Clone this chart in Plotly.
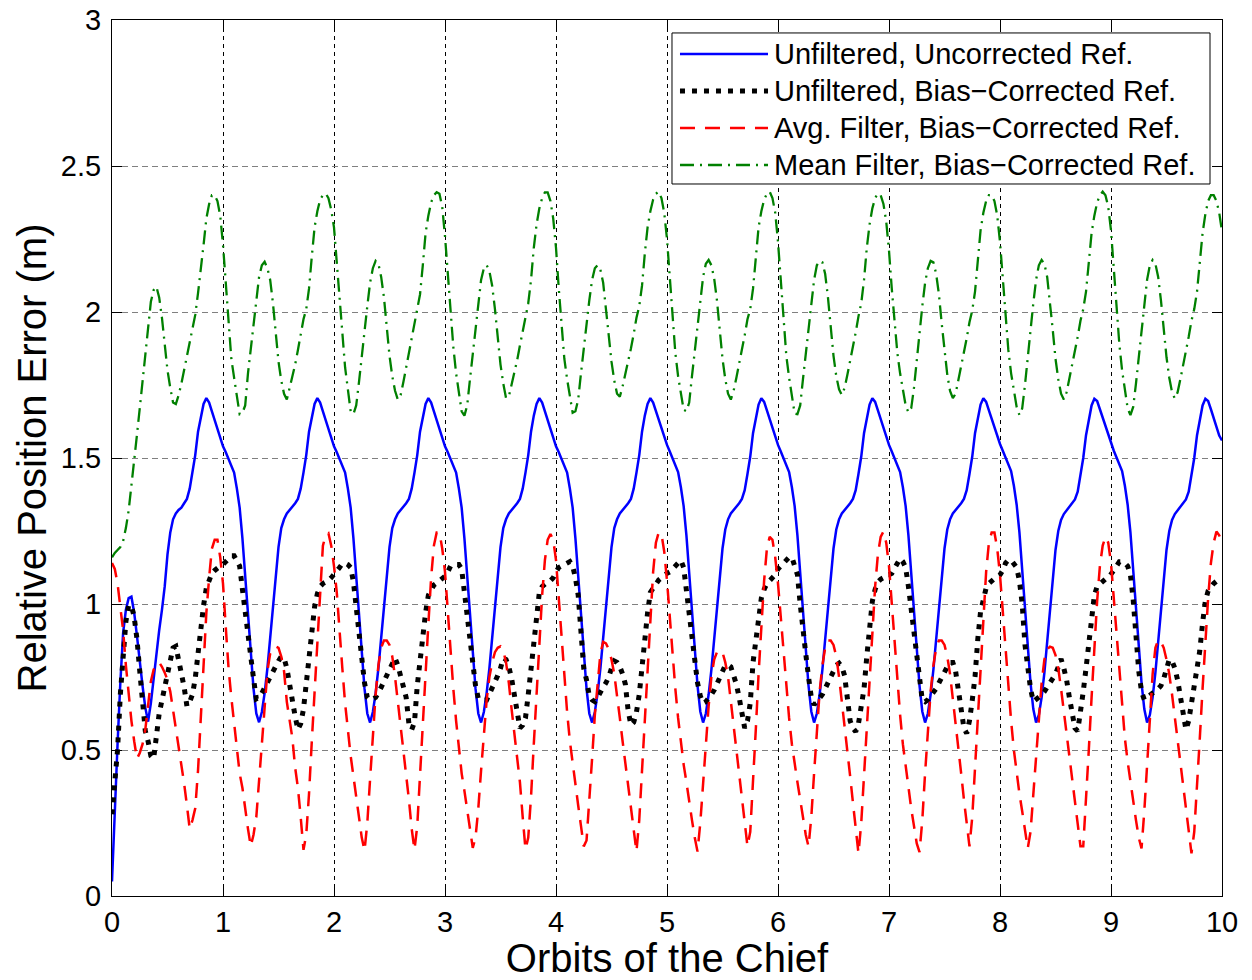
import numpy as np
import plotly.graph_objects as go

# Orbit sampling: 40 samples per orbit, 10 orbits of the chief
orbits = np.round(np.arange(401) * 0.025, 3)

# Unfiltered, uncorrected reference (m)
unfilt_uncorr = [
    0.05, 0.30, 0.52, 0.73, 0.90, 0.98, 1.02, 1.025, 0.97, 0.89, 0.80, 0.72, 0.645, 0.597, 0.66, 0.75, 0.83, 0.91, 0.98, 1.06,
    1.17, 1.245, 1.29, 1.31, 1.322, 1.33, 1.345, 1.36, 1.395, 1.45, 1.51, 1.59, 1.645, 1.685, 1.705, 1.69, 1.66, 1.63, 1.60, 1.57,
    1.54, 1.52, 1.497, 1.475, 1.45, 1.395, 1.33, 1.225, 1.09, 0.95, 0.825, 0.71, 0.625, 0.595, 0.63, 0.695, 0.78, 0.89, 1.00, 1.11,
    1.195, 1.26, 1.29, 1.31, 1.322, 1.33, 1.345, 1.36, 1.395, 1.45, 1.51, 1.59, 1.645, 1.685, 1.705, 1.69, 1.66, 1.63, 1.60, 1.57,
    1.54, 1.52, 1.497, 1.475, 1.45, 1.395, 1.33, 1.225, 1.09, 0.95, 0.825, 0.71, 0.625, 0.594, 0.63, 0.695, 0.78, 0.89, 1.00, 1.11,
    1.195, 1.26, 1.29, 1.31, 1.322, 1.33, 1.345, 1.36, 1.395, 1.45, 1.51, 1.59, 1.645, 1.685, 1.705, 1.69, 1.66, 1.63, 1.60, 1.57,
    1.54, 1.52, 1.497, 1.475, 1.45, 1.395, 1.33, 1.225, 1.09, 0.95, 0.825, 0.71, 0.625, 0.594, 0.63, 0.695, 0.78, 0.89, 1.00, 1.11,
    1.195, 1.26, 1.29, 1.31, 1.322, 1.33, 1.345, 1.36, 1.395, 1.45, 1.51, 1.59, 1.645, 1.685, 1.705, 1.69, 1.66, 1.63, 1.60, 1.57,
    1.54, 1.52, 1.497, 1.475, 1.45, 1.395, 1.33, 1.225, 1.09, 0.95, 0.825, 0.71, 0.625, 0.594, 0.63, 0.695, 0.78, 0.89, 1.00, 1.11,
    1.195, 1.26, 1.29, 1.31, 1.322, 1.33, 1.345, 1.36, 1.395, 1.45, 1.51, 1.59, 1.645, 1.685, 1.705, 1.69, 1.66, 1.63, 1.60, 1.57,
    1.545, 1.522, 1.50, 1.477, 1.452, 1.40, 1.335, 1.235, 1.10, 0.96, 0.835, 0.72, 0.632, 0.594, 0.625, 0.69, 0.775, 0.88, 0.99, 1.10,
    1.19, 1.255, 1.29, 1.31, 1.322, 1.33, 1.345, 1.36, 1.39, 1.445, 1.505, 1.585, 1.64, 1.683, 1.705, 1.692, 1.663, 1.633, 1.603, 1.573,
    1.545, 1.522, 1.50, 1.477, 1.452, 1.40, 1.335, 1.235, 1.10, 0.96, 0.835, 0.72, 0.632, 0.594, 0.625, 0.69, 0.775, 0.88, 0.99, 1.10,
    1.19, 1.255, 1.29, 1.31, 1.322, 1.33, 1.345, 1.36, 1.39, 1.445, 1.505, 1.585, 1.64, 1.683, 1.705, 1.692, 1.663, 1.633, 1.603, 1.573,
    1.545, 1.522, 1.50, 1.477, 1.452, 1.40, 1.335, 1.235, 1.10, 0.96, 0.835, 0.72, 0.632, 0.594, 0.625, 0.69, 0.775, 0.88, 0.99, 1.10,
    1.19, 1.255, 1.29, 1.31, 1.322, 1.33, 1.345, 1.36, 1.39, 1.445, 1.505, 1.585, 1.64, 1.683, 1.705, 1.692, 1.663, 1.633, 1.603, 1.573,
    1.548, 1.525, 1.502, 1.48, 1.455, 1.405, 1.34, 1.245, 1.11, 0.97, 0.845, 0.73, 0.64, 0.594, 0.62, 0.68, 0.765, 0.87, 0.98, 1.09,
    1.185, 1.25, 1.288, 1.308, 1.32, 1.33, 1.343, 1.358, 1.385, 1.44, 1.50, 1.578, 1.635, 1.68, 1.703, 1.695, 1.667, 1.637, 1.607, 1.577,
    1.548, 1.525, 1.502, 1.48, 1.455, 1.405, 1.34, 1.245, 1.11, 0.97, 0.845, 0.73, 0.64, 0.594, 0.62, 0.68, 0.765, 0.87, 0.98, 1.09,
    1.185, 1.25, 1.288, 1.308, 1.32, 1.33, 1.343, 1.358, 1.385, 1.44, 1.50, 1.578, 1.635, 1.68, 1.703, 1.695, 1.667, 1.637, 1.607, 1.577,
    1.56,
]

# Unfiltered, bias-corrected reference (m)
unfilt_biascorr = [
    0.28, 0.39, 0.50, 0.69, 0.83, 0.94, 0.995, 0.995, 0.955, 0.88, 0.77, 0.66, 0.565, 0.53, 0.48, 0.47, 0.55, 0.625, 0.67, 0.715,
    0.77, 0.82, 0.85, 0.855, 0.81, 0.76, 0.715, 0.65, 0.665, 0.69, 0.745, 0.83, 0.925, 0.995, 1.055, 1.087, 1.105, 1.115, 1.125, 1.13,
    1.135, 1.145, 1.155, 1.165, 1.165, 1.15, 1.13, 1.05, 0.965, 0.885, 0.81, 0.745, 0.675, 0.68, 0.695, 0.715, 0.73, 0.745, 0.77, 0.79,
    0.805, 0.82, 0.815, 0.78, 0.72, 0.66, 0.615, 0.57, 0.59, 0.64, 0.73, 0.82, 0.90, 0.99, 1.035, 1.06, 1.07, 1.075, 1.08, 1.09,
    1.10, 1.116, 1.125, 1.138, 1.14, 1.135, 1.125, 1.076, 0.98, 0.895, 0.82, 0.73, 0.68, 0.671, 0.675, 0.68, 0.695, 0.715, 0.73, 0.75,
    0.77, 0.795, 0.815, 0.79, 0.76, 0.717, 0.68, 0.59, 0.57, 0.595, 0.72, 0.808, 0.89, 0.97, 1.03, 1.05, 1.065, 1.072, 1.078, 1.085,
    1.095, 1.11, 1.13, 1.135, 1.135, 1.135, 1.12, 1.04, 0.96, 0.877, 0.79, 0.72, 0.677, 0.672, 0.671, 0.671, 0.69, 0.71, 0.73, 0.755,
    0.78, 0.815, 0.81, 0.785, 0.745, 0.68, 0.62, 0.575, 0.585, 0.61, 0.69, 0.78, 0.86, 0.975, 1.04, 1.06, 1.07, 1.075, 1.08, 1.09,
    1.11, 1.125, 1.13, 1.135, 1.14, 1.145, 1.13, 1.09, 1.03, 0.91, 0.78, 0.74, 0.685, 0.672, 0.666, 0.68, 0.70, 0.715, 0.73, 0.75,
    0.78, 0.805, 0.80, 0.785, 0.76, 0.725, 0.635, 0.585, 0.595, 0.63, 0.69, 0.795, 0.89, 0.97, 1.04, 1.055, 1.07, 1.082, 1.09, 1.10,
    1.105, 1.11, 1.12, 1.13, 1.14, 1.15, 1.125, 1.045, 0.965, 0.89, 0.805, 0.73, 0.685, 0.66, 0.665, 0.675, 0.69, 0.705, 0.725, 0.745,
    0.77, 0.79, 0.792, 0.785, 0.755, 0.725, 0.68, 0.615, 0.575, 0.60, 0.66, 0.80, 0.88, 0.945, 1.02, 1.05, 1.07, 1.08, 1.09, 1.10,
    1.12, 1.13, 1.14, 1.15, 1.16, 1.16, 1.135, 1.10, 1.00, 0.90, 0.83, 0.75, 0.68, 0.655, 0.665, 0.68, 0.69, 0.71, 0.73, 0.745,
    0.77, 0.79, 0.797, 0.785, 0.755, 0.69, 0.60, 0.575, 0.563, 0.59, 0.665, 0.71, 0.82, 0.92, 1.01, 1.05, 1.075, 1.085, 1.09, 1.10,
    1.10, 1.105, 1.125, 1.145, 1.156, 1.145, 1.125, 1.06, 0.975, 0.895, 0.805, 0.73, 0.67, 0.665, 0.672, 0.685, 0.695, 0.71, 0.73, 0.75,
    0.77, 0.785, 0.80, 0.80, 0.77, 0.70, 0.62, 0.575, 0.557, 0.60, 0.67, 0.751, 0.88, 0.975, 1.014, 1.055, 1.07, 1.08, 1.085, 1.095,
    1.10, 1.115, 1.14, 1.151, 1.15, 1.14, 1.125, 1.08, 1.00, 0.86, 0.775, 0.71, 0.666, 0.672, 0.68, 0.688, 0.70, 0.715, 0.728, 0.745,
    0.76, 0.785, 0.812, 0.78, 0.74, 0.68, 0.62, 0.575, 0.565, 0.62, 0.70, 0.78, 0.87, 0.955, 1.03, 1.06, 1.07, 1.078, 1.085, 1.09,
    1.10, 1.115, 1.13, 1.145, 1.145, 1.14, 1.13, 1.10, 1.014, 0.88, 0.77, 0.70, 0.672, 0.68, 0.69, 0.695, 0.70, 0.71, 0.72, 0.745,
    0.78, 0.81, 0.805, 0.78, 0.74, 0.69, 0.62, 0.57, 0.60, 0.66, 0.715, 0.765, 0.84, 0.935, 1.01, 1.045, 1.06, 1.07, 1.078, 1.082,
    1.085,
]

# Averaging filter, bias-corrected reference (m)
avg_filt = [
    1.14, 1.12, 1.07, 0.99, 0.91, 0.79, 0.69, 0.60, 0.53, 0.47, 0.49, 0.52, 0.57, 0.66, 0.735, 0.775, 0.795, 0.80, 0.785, 0.765,
    0.74, 0.70, 0.64, 0.58, 0.51, 0.45, 0.385, 0.31, 0.23, 0.26, 0.30, 0.43, 0.61, 0.80, 0.97, 1.09, 1.19, 1.22, 1.22, 1.16,
    1.07, 0.92, 0.78, 0.68, 0.59, 0.49, 0.42, 0.37, 0.29, 0.23, 0.17, 0.21, 0.27, 0.40, 0.54, 0.66, 0.77, 0.83, 0.85, 0.855,
    0.85, 0.82, 0.77, 0.665, 0.61, 0.54, 0.44, 0.37, 0.27, 0.158, 0.21, 0.35, 0.53, 0.70, 0.88, 1.07, 1.20, 1.235, 1.242, 1.20,
    1.13, 1.04, 0.90, 0.78, 0.66, 0.56, 0.48, 0.41, 0.34, 0.27, 0.20, 0.155, 0.25, 0.40, 0.55, 0.69, 0.79, 0.85, 0.875, 0.875,
    0.86, 0.82, 0.75, 0.67, 0.59, 0.51, 0.42, 0.33, 0.23, 0.158, 0.24, 0.40, 0.58, 0.76, 0.93, 1.09, 1.20, 1.245, 1.245, 1.19,
    1.11, 0.97, 0.83, 0.71, 0.60, 0.50, 0.42, 0.36, 0.29, 0.22, 0.165, 0.20, 0.30, 0.43, 0.56, 0.67, 0.75, 0.80, 0.835, 0.85,
    0.855, 0.84, 0.80, 0.73, 0.64, 0.56, 0.47, 0.39, 0.27, 0.16, 0.20, 0.34, 0.52, 0.70, 0.87, 1.03, 1.15, 1.22, 1.24, 1.22,
    1.15, 1.02, 0.87, 0.74, 0.63, 0.53, 0.45, 0.38, 0.31, 0.24, 0.17, 0.19, 0.32, 0.47, 0.62, 0.74, 0.83, 0.87, 0.865, 0.845,
    0.81, 0.76, 0.69, 0.61, 0.53, 0.45, 0.37, 0.29, 0.21, 0.152, 0.26, 0.43, 0.61, 0.79, 0.96, 1.11, 1.21, 1.245, 1.24, 1.18,
    1.08, 0.95, 0.82, 0.71, 0.61, 0.52, 0.45, 0.39, 0.32, 0.26, 0.20, 0.152, 0.25, 0.39, 0.53, 0.65, 0.75, 0.81, 0.835, 0.842,
    0.835, 0.80, 0.75, 0.67, 0.59, 0.51, 0.42, 0.34, 0.25, 0.17, 0.22, 0.38, 0.57, 0.76, 0.93, 1.08, 1.19, 1.23, 1.22, 1.16,
    1.07, 0.95, 0.82, 0.71, 0.61, 0.52, 0.45, 0.39, 0.33, 0.27, 0.21, 0.169, 0.27, 0.42, 0.57, 0.70, 0.79, 0.85, 0.875, 0.875,
    0.86, 0.82, 0.75, 0.67, 0.59, 0.50, 0.41, 0.32, 0.23, 0.146, 0.25, 0.41, 0.58, 0.75, 0.91, 1.06, 1.17, 1.23, 1.248, 1.21,
    1.13, 1.00, 0.86, 0.73, 0.62, 0.52, 0.44, 0.37, 0.30, 0.24, 0.18, 0.15, 0.26, 0.42, 0.57, 0.70, 0.79, 0.85, 0.875, 0.875,
    0.86, 0.82, 0.76, 0.68, 0.60, 0.51, 0.42, 0.33, 0.24, 0.17, 0.27, 0.44, 0.62, 0.80, 0.97, 1.11, 1.21, 1.245, 1.245, 1.19,
    1.10, 0.97, 0.83, 0.71, 0.60, 0.50, 0.42, 0.35, 0.29, 0.22, 0.163, 0.22, 0.35, 0.49, 0.62, 0.73, 0.81, 0.845, 0.854, 0.85,
    0.825, 0.78, 0.71, 0.63, 0.55, 0.47, 0.39, 0.31, 0.24, 0.17, 0.17, 0.32, 0.50, 0.68, 0.85, 1.01, 1.13, 1.20, 1.23, 1.21,
    1.14, 1.02, 0.88, 0.75, 0.64, 0.54, 0.46, 0.39, 0.32, 0.26, 0.20, 0.163, 0.29, 0.46, 0.62, 0.76, 0.85, 0.877, 0.87, 0.85,
    0.81, 0.76, 0.69, 0.61, 0.53, 0.45, 0.37, 0.29, 0.22, 0.146, 0.22, 0.37, 0.54, 0.71, 0.87, 1.02, 1.14, 1.21, 1.248, 1.235,
    1.215,
]

# Mean filter, bias-corrected reference (m)
mean_filt = [
    1.16, 1.175, 1.185, 1.195, 1.215, 1.26, 1.32, 1.40, 1.49, 1.58, 1.67, 1.76, 1.86, 1.955, 2.035, 2.075, 2.087, 2.05, 1.98, 1.89,
    1.80, 1.74, 1.69, 1.685, 1.715, 1.755, 1.80, 1.845, 1.90, 1.94, 1.99, 2.065, 2.14, 2.23, 2.32, 2.37, 2.40, 2.40, 2.38, 2.33,
    2.23, 2.09, 1.96, 1.84, 1.775, 1.71, 1.65, 1.655, 1.68, 1.79, 1.875, 1.955, 2.04, 2.12, 2.16, 2.172, 2.15, 2.11, 2.03, 1.92,
    1.83, 1.765, 1.72, 1.70, 1.74, 1.775, 1.82, 1.87, 1.92, 1.975, 2.01, 2.08, 2.19, 2.29, 2.345, 2.385, 2.40, 2.406, 2.39, 2.35,
    2.29, 2.17, 2.04, 1.91, 1.81, 1.735, 1.66, 1.65, 1.68, 1.76, 1.855, 1.94, 2.02, 2.10, 2.15, 2.175, 2.165, 2.12, 2.05, 1.95,
    1.85, 1.78, 1.73, 1.70, 1.715, 1.76, 1.81, 1.86, 1.905, 1.96, 2.00, 2.06, 2.16, 2.27, 2.33, 2.375, 2.40, 2.41, 2.405, 2.36,
    2.26, 2.13, 2.00, 1.88, 1.79, 1.72, 1.66, 1.645, 1.68, 1.77, 1.86, 1.95, 2.04, 2.11, 2.15, 2.161, 2.14, 2.09, 2.01, 1.91,
    1.82, 1.755, 1.705, 1.71, 1.75, 1.79, 1.835, 1.885, 1.935, 1.99, 2.03, 2.11, 2.22, 2.30, 2.355, 2.39, 2.41, 2.41, 2.38, 2.32,
    2.22, 2.08, 1.95, 1.84, 1.77, 1.71, 1.655, 1.66, 1.70, 1.79, 1.88, 1.96, 2.04, 2.11, 2.15, 2.161, 2.145, 2.10, 2.02, 1.92,
    1.83, 1.765, 1.72, 1.71, 1.745, 1.785, 1.83, 1.875, 1.925, 1.98, 2.02, 2.09, 2.20, 2.29, 2.345, 2.385, 2.405, 2.412, 2.39, 2.34,
    2.25, 2.11, 1.98, 1.86, 1.78, 1.72, 1.665, 1.66, 1.69, 1.78, 1.87, 1.955, 2.04, 2.12, 2.165, 2.178, 2.16, 2.115, 2.04, 1.935,
    1.84, 1.77, 1.72, 1.70, 1.73, 1.775, 1.82, 1.87, 1.92, 1.975, 2.01, 2.08, 2.19, 2.29, 2.345, 2.385, 2.405, 2.412, 2.39, 2.34,
    2.24, 2.10, 1.97, 1.85, 1.775, 1.71, 1.652, 1.65, 1.68, 1.77, 1.86, 1.945, 2.03, 2.11, 2.16, 2.175, 2.17, 2.13, 2.05, 1.95,
    1.85, 1.78, 1.735, 1.716, 1.74, 1.785, 1.83, 1.88, 1.93, 1.985, 2.03, 2.11, 2.22, 2.30, 2.355, 2.39, 2.406, 2.40, 2.37, 2.31,
    2.21, 2.08, 1.96, 1.86, 1.79, 1.73, 1.68, 1.656, 1.67, 1.74, 1.84, 1.93, 2.02, 2.10, 2.15, 2.175, 2.17, 2.13, 2.06, 1.96,
    1.86, 1.785, 1.73, 1.705, 1.72, 1.765, 1.81, 1.86, 1.91, 1.965, 2.005, 2.07, 2.18, 2.28, 2.34, 2.38, 2.40, 2.40, 2.38, 2.33,
    2.24, 2.11, 1.98, 1.87, 1.79, 1.73, 1.675, 1.647, 1.67, 1.75, 1.85, 1.94, 2.03, 2.11, 2.16, 2.178, 2.165, 2.12, 2.04, 1.94,
    1.84, 1.77, 1.72, 1.70, 1.725, 1.77, 1.815, 1.865, 1.915, 1.97, 2.01, 2.07, 2.17, 2.27, 2.33, 2.375, 2.40, 2.412, 2.40, 2.36,
    2.28, 2.15, 2.01, 1.89, 1.80, 1.73, 1.67, 1.647, 1.675, 1.755, 1.85, 1.94, 2.03, 2.11, 2.16, 2.178, 2.165, 2.12, 2.04, 1.94,
    1.845, 1.775, 1.725, 1.704, 1.725, 1.77, 1.815, 1.865, 1.915, 1.97, 2.01, 2.07, 2.17, 2.27, 2.335, 2.38, 2.40, 2.40, 2.38, 2.34,
    2.275,
]

for series in (unfilt_uncorr, unfilt_biascorr, avg_filt, mean_filt):
    assert len(series) == len(orbits), len(series)

legend_labels = [
    "Unfiltered, Uncorrected Ref.",
    "Unfiltered, Bias\u2212Corrected Ref.",
    "Avg. Filter, Bias\u2212Corrected Ref.",
    "Mean Filter, Bias\u2212Corrected Ref.",
]
styles = [
    dict(color="#0000FF", width=2.5, dash="solid"),
    dict(color="#000000", width=5, dash="5px,7px"),
    dict(color="#FF0000", width=2.5, dash="15px,10px"),
    dict(color="#008000", width=2.3, dash="14px,6px,2px,6px"),
]

fig = go.Figure()
for name, ys, st in zip(legend_labels, [unfilt_uncorr, unfilt_biascorr, avg_filt, mean_filt], styles):
    fig.add_trace(go.Scatter(x=orbits, y=ys, mode="lines", name=name, line=st, showlegend=False))

FONT = "Liberation Sans, Arial, Helvetica, sans-serif"

axis_common = dict(
    showline=True, linecolor="black", linewidth=1, mirror="ticks",
    ticks="inside", ticklen=10, tickwidth=1, tickcolor="black",
    showgrid=True, gridwidth=1, zeroline=False, automargin=False,
    tickfont=dict(family=FONT, size=29, color="black"),
)

fig.update_xaxes(
    range=[0, 10], tickvals=list(range(11)), ticktext=[str(v) for v in range(11)],
    gridcolor="#000000", griddash="4px,4px", ticklabelstandoff=0,
    title=dict(text="Orbits of the Chief", font=dict(family=FONT, size=40, color="black"), standoff=4),
    **axis_common,
)
y_ticks = [0, 0.5, 1, 1.5, 2, 2.5, 3]
y_text = ["0", "0.5", "1", "1.5", "2", "2.5", "3"]
fig.update_yaxes(
    range=[0, 3], tickvals=y_ticks, ticktext=y_text,
    gridcolor="#808080", griddash="6px,4px", ticklabelstandoff=4,
    title=dict(text="Relative Position Error (m)", font=dict(family=FONT, size=40, color="black"), standoff=1),
    **axis_common,
)

# Boxed legend in the upper right of the axes
box = dict(x0=0.5045, x1=0.9892, y0=0.8128, y1=0.9852)
fig.add_shape(type="rect", xref="paper", yref="paper", **box,
              line=dict(color="black", width=1), fillcolor="white", layer="above")
row_y = [0.9612, 0.9189, 0.8767, 0.8345]
for label, st, yy in zip(legend_labels, styles, row_y):
    fig.add_shape(type="line", xref="paper", yref="paper", x0=0.5117, x1=0.5910, y0=yy, y1=yy,
                  line=st, layer="above")
    fig.add_annotation(xref="paper", yref="paper", x=0.5946, y=yy, text=label, showarrow=False,
                       xanchor="left", yanchor="middle", font=dict(family=FONT, size=29, color="black"))

fig.update_layout(
    width=1252, height=980,
    margin=dict(l=112, r=30, t=20, b=84),
    paper_bgcolor="white", plot_bgcolor="white",
    showlegend=False,
    font=dict(family=FONT, color="black"),
)

fig.write_html("out.html")
